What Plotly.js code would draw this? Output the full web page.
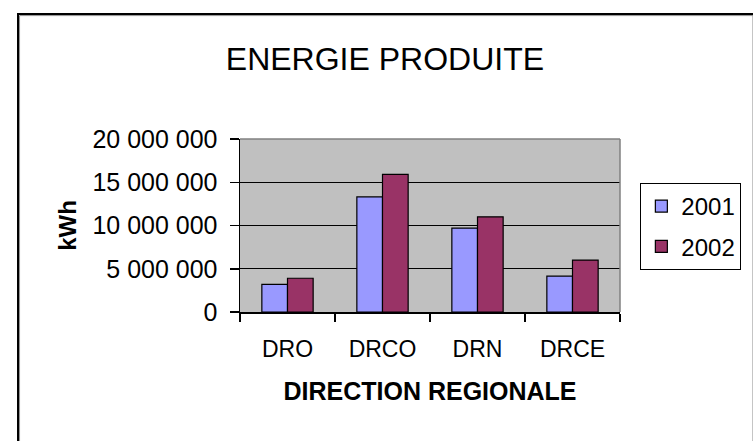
<!DOCTYPE html>
<html>
<head>
<meta charset="utf-8">
<script src="https://cdn.plot.ly/plotly-3.0.1.min.js"></script>
<style>html,body{margin:0;padding:0;background:#fff;}#chart{width:753px;height:441px;}</style>
</head>
<body>
<div id="chart"></div>
<script>
var categories = ['DRO', 'DRCO', 'DRN', 'DRCE'];
var values2001 = [3200000, 13300000, 9700000, 4150000];
var values2002 = [3900000, 15900000, 11000000, 6000000];
var seriesNames = ['2001', '2002'];
var yTickVals = [0, 5000000, 10000000, 15000000, 20000000];
var yTickText = ['0', '5 000 000', '10 000 000', '15 000 000', '20 000 000'];

var W = 753, H = 441, L = 240, R = 121, T = 139, B = 129;
var pw = W - L - R, ph = H - T - B;
function px(x){ return (x - L) / pw; }
function py(y){ return (H - B - y) / ph; }

var font = 'Liberation Sans, Arial, sans-serif';

var traces = [
  {type:'bar', name: seriesNames[0], x: categories, y: values2001, legendgroup:'a',
   marker:{color:'#9999ff', line:{color:'#000', width:1.2}}, hoverinfo:'none'},
  {type:'bar', name: seriesNames[1], x: categories, y: values2002, legendgroup:'b',
   marker:{color:'#993366', line:{color:'#000', width:1.2}}, hoverinfo:'none'}
];

var layout = {
  width: W, height: H,
  margin: {l: L, r: R, t: T, b: B, pad: 0},
  paper_bgcolor: '#fff',
  plot_bgcolor: '#c0c0c0',
  font: {family: font, color: '#000'},
  barmode: 'group', bargap: 0.46, bargroupgap: 0,
  title: {text: 'ENERGIE PRODUITE', font: {family: font, size: 32, color: '#000'},
          x: px(389.5), xref: 'paper', xanchor: 'center', y: 1 - 59/H, yref: 'container', yanchor: 'middle'},
  xaxis: {
    type: 'category', tickson: 'boundaries', ticks: 'outside', ticklen: 8, tickwidth: 1.5, tickcolor: '#000',
    showline: true, linecolor: '#000', linewidth: 1.5, showgrid: false, zeroline: false,
    tickfont: {family: font, size: 23, color: '#000'}, ticklabelstandoff: 16,
    title: {text: '<b>DIRECTION REGIONALE</b>', font: {family: font, size: 25, color: '#000'}, standoff: 21},
    fixedrange: true
  },
  yaxis: {
    range: [0, 20000000], tickvals: yTickVals, ticktext: yTickText,
    ticks: 'outside', ticklen: 9, tickwidth: 1.5, tickcolor: '#000',
    showline: true, linecolor: '#000', linewidth: 1.5, showgrid: true, gridcolor: '#000', gridwidth: 1.2,
    zeroline: false,
    tickfont: {family: font, size: 25, color: '#000'}, ticklabelstandoff: 7,
    title: {text: '<b>kWh</b>', font: {family: font, size: 24, color: '#000'}, standoff: 9},
    fixedrange: true
  },
  legend: {
    x: px(653), y: py(183), xanchor: 'left', yanchor: 'top',
    bordercolor: '#000', borderwidth: 1, bgcolor: '#fff',
    font: {family: font, size: 24, color: '#000'},
    traceorder: 'grouped', tracegroupgap: 6
  },
  shapes: [
    {type:'line', xref:'paper', yref:'paper', x0:0, x1:1, y0:1, y1:1, line:{color:'#808080', width:1.5}, layer:'above'},
    {type:'line', xref:'paper', yref:'paper', x0:1, x1:1, y0:0, y1:1, line:{color:'#808080', width:1.5}, layer:'above'},
    {type:'rect', xref:'paper', yref:'paper', x0:px(11), x1:px(770), y0:py(460), y1:py(14), line:{color:'#000', width:2}, layer:'below'},
    {type:'rect', xref:'paper', yref:'paper', x0:px(12.6), x1:px(770), y0:py(460), y1:py(15.6), line:{color:'#909090', width:1}, layer:'below'}
  ]
};

Plotly.newPlot('chart', traces, layout, {displayModeBar: false, staticPlot: true});
</script>
</body>
</html>
